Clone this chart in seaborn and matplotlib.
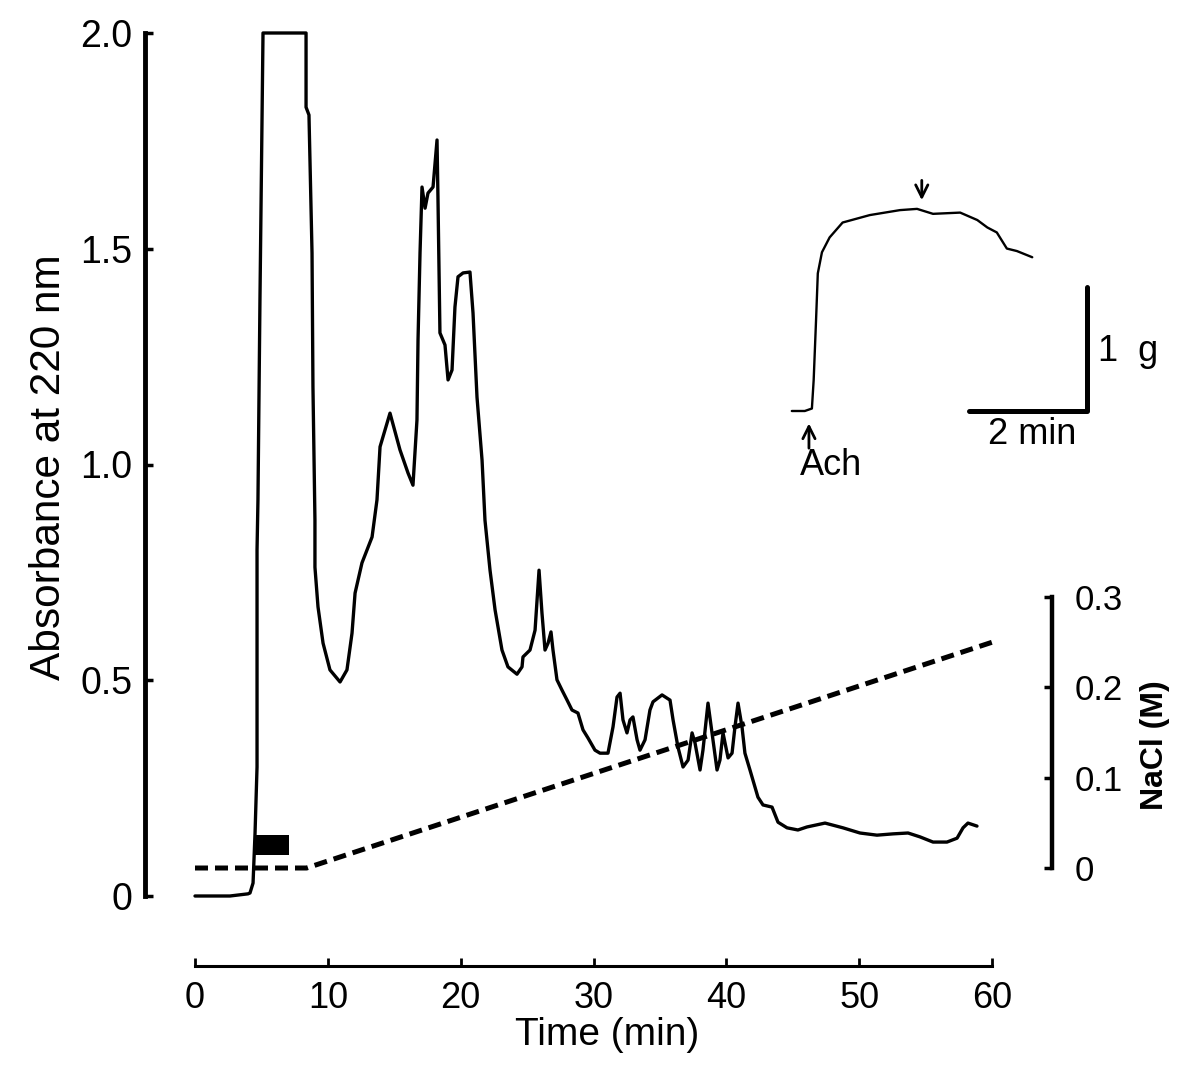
import matplotlib
matplotlib.use("Agg")
import matplotlib.pyplot as plt
import numpy as np
import pandas as pd
import seaborn as sns

# ---------------- data ----------------
time_min = [0.00, 2.63, 3.99, 4.14, 4.37, 4.52, 4.67, 4.67, 4.74, 4.89, 5.12,
            8.36, 8.36, 8.58, 8.81, 8.88, 9.03, 9.03, 9.26, 9.64, 10.16, 10.92,
            11.44, 11.82, 12.05, 12.57, 13.33, 13.70, 13.93, 14.68, 15.43, 16.04,
            16.41, 16.71, 16.79, 16.94, 17.09, 17.32, 17.54, 17.92, 18.22, 18.29,
            18.44, 18.82, 19.05, 19.35, 19.57, 19.80, 20.18, 20.70, 20.93, 21.23,
            21.61, 21.83, 22.21, 22.59, 23.11, 23.56, 24.24, 24.62, 24.69, 25.22,
            25.60, 25.90, 26.12, 26.35, 26.58, 26.80, 26.95, 27.25, 27.63, 28.01,
            28.38, 28.83, 29.21, 29.59, 30.11, 30.49, 31.09, 31.47, 31.77, 32.00,
            32.22, 32.52, 32.75, 32.97, 33.28, 33.50, 33.88, 34.25, 34.48, 35.16,
            35.76, 35.99, 36.36, 36.74, 37.12, 37.42, 37.64, 38.02, 38.24, 38.62,
            38.92, 39.30, 39.52, 39.75, 40.13, 40.43, 40.65, 40.88, 41.18, 41.40,
            41.78, 42.38, 42.76, 43.44, 43.89, 44.57, 45.39, 46.07, 47.43, 48.78,
            50.06, 51.34, 52.55, 53.68, 54.58, 55.56, 56.61, 57.37, 57.82, 58.19,
            58.87]
absorbance = [0.000, 0.000, 0.005, 0.007, 0.030, 0.146, 0.299, 0.802, 0.918, 1.381, 2.000,
              2.000, 1.828, 1.810, 1.490, 1.180, 0.871, 0.762, 0.670, 0.586, 0.524, 0.496,
              0.524, 0.609, 0.702, 0.772, 0.832, 0.918, 1.041, 1.119, 1.034, 0.980,
              0.952, 1.103, 1.289, 1.490, 1.643, 1.594, 1.629, 1.643, 1.752, 1.620,
              1.305, 1.277, 1.196, 1.219, 1.365, 1.435, 1.444, 1.446, 1.351, 1.156,
              1.010, 0.871, 0.755, 0.663, 0.570, 0.531, 0.514, 0.531, 0.554, 0.570,
              0.616, 0.755, 0.656, 0.570, 0.586, 0.612, 0.570, 0.501, 0.477, 0.454,
              0.431, 0.424, 0.385, 0.366, 0.338, 0.331, 0.331, 0.392, 0.461, 0.470,
              0.408, 0.378, 0.408, 0.415, 0.362, 0.338, 0.362, 0.431, 0.450, 0.466,
              0.454, 0.408, 0.345, 0.299, 0.315, 0.378, 0.355, 0.292, 0.338, 0.447,
              0.378, 0.292, 0.315, 0.378, 0.320, 0.331, 0.392, 0.447, 0.392, 0.331,
              0.292, 0.229, 0.211, 0.206, 0.171, 0.158, 0.153, 0.160, 0.169, 0.158,
              0.146, 0.141, 0.144, 0.146, 0.137, 0.125, 0.125, 0.134, 0.158, 0.169,
              0.162]

grad_time = [0.0, 8.4, 60.0]
grad_nacl = [0.0, 0.0, 0.25]

fraction_time = [4.45, 7.08]
fraction_low = [0.095, 0.095]
fraction_high = [0.141, 0.141]

inset_time = [0.00, 0.22, 0.34, 0.37, 0.41, 0.44, 0.51, 0.64, 0.86, 1.32, 1.83,
              2.12, 2.39, 2.85, 3.14, 3.31, 3.47, 3.64, 3.81, 4.07]
inset_tension = [0.00, 0.00, 0.02, 0.25, 0.73, 1.11, 1.28, 1.40, 1.52, 1.58, 1.62,
                 1.63, 1.59, 1.60, 1.54, 1.48, 1.44, 1.31, 1.29, 1.24]
scalebar_time = [3.0, 5.0, 5.0]
scalebar_tension = [0.0, 0.0, 1.0]

x_ticks = [0, 10, 20, 30, 40, 50, 60]
x_labels = ["0", "10", "20", "30", "40", "50", "60"]
abs_ticks = [0, 0.5, 1.0, 1.5, 2.0]
abs_labels = ["0", "0.5", "1.0", "1.5", "2.0"]
nacl_ticks = [0, 0.1, 0.2, 0.3]
nacl_labels = ["0", "0.1", "0.2", "0.3"]

# ---------------- style ----------------
sns.set_theme(style="ticks")
plt.rcParams['font.family'] = ['Liberation Sans', 'DejaVu Sans']
plt.rcParams['text.color'] = 'black'
plt.rcParams['axes.labelcolor'] = 'black'
plt.rcParams['axes.edgecolor'] = 'black'
plt.rcParams['xtick.color'] = 'black'
plt.rcParams['ytick.color'] = 'black'

W, H = 1194, 1072
fig = plt.figure(figsize=(W / 100, H / 100), dpi=100)
fig.patch.set_facecolor('white')

ax = fig.add_axes([195 / W, 1 - 896 / H, 797 / W, 863 / H])
ax.set_facecolor('none')

df = pd.DataFrame({"t": time_min, "A": absorbance})
sns.lineplot(data=df, x="t", y="A", ax=ax, estimator=None, sort=False,
             color="black", linewidth=2.4)
for ln in ax.lines:
    ln.set_clip_on(False)

ax.fill_between(fraction_time, fraction_low, fraction_high, color="black",
                linewidth=0)

ax.set_xlim(0, 60)
ax.set_ylim(0, 2.0)

ax.spines['top'].set_visible(False)
ax.spines['right'].set_visible(False)
ax.spines['left'].set_position(('outward', 36))
ax.spines['left'].set_bounds(0, 2.0)
ax.spines['left'].set_linewidth(3.5)
ax.spines['bottom'].set_position(('outward', 50.4))
ax.spines['bottom'].set_bounds(0, 60)
ax.spines['bottom'].set_linewidth(2.2)

ax.set_xticks(x_ticks)
ax.set_xticklabels(x_labels)
ax.set_yticks(abs_ticks)
ax.set_yticklabels(abs_labels)
ax.tick_params(axis='x', direction='in', length=6, width=2, pad=11, labelsize=26)
ax.tick_params(axis='y', direction='in', length=6, width=2.5, pad=9, labelsize=27)

ax.set_xlabel("Time (min)", fontsize=28, color='black')
ax.xaxis.set_label_coords(0.517, -0.14)
ax.set_ylabel("Absorbance at 220 nm", fontsize=30.5, color='black')
ax.yaxis.set_label_coords(-0.158, 0.497)

# ---------------- NaCl axis ----------------
ax2 = ax.twinx()
ax2.set_facecolor('none')
dg = pd.DataFrame({"t": grad_time, "NaCl": grad_nacl})
sns.lineplot(data=dg, x="t", y="NaCl", ax=ax2, estimator=None, sort=False,
             color="black", linewidth=3.6, dashes=False)
ax2.lines[-1].set_dashes((2.6, 1.4))
ax2.lines[-1].set_clip_on(False)
ax2.set_ylim(-0.031, 0.9247)
ax2.set_xlim(0, 60)
for s in ['top', 'left', 'bottom']:
    ax2.spines[s].set_visible(False)
ax2.spines['right'].set_position(('outward', 43.2))
ax2.spines['right'].set_bounds(0, 0.3)
ax2.spines['right'].set_linewidth(3.2)
ax2.set_yticks(nacl_ticks)
ax2.set_yticklabels(nacl_labels)
ax2.tick_params(axis='y', direction='in', length=6, width=2.5, pad=16, labelsize=25)
ax2.set_ylabel("")
ax2.set_xlabel("")
fig.text(1155 / W, 1 - 745 / H, "NaCl (M)", rotation=90, ha='center', va='center',
         fontsize=23, fontweight='bold', color='black')

# ---------------- inset: contraction trace ----------------
ax_in = fig.add_axes([780 / W, 1 - 473 / H, 319 / W, 310 / H])
di = pd.DataFrame({"t": inset_time, "g": inset_tension})
sns.lineplot(data=di, x="t", y="g", ax=ax_in, estimator=None, sort=False,
             color="black", linewidth=1.7)
ds = pd.DataFrame({"t": scalebar_time, "g": scalebar_tension})
sns.lineplot(data=ds, x="t", y="g", ax=ax_in, estimator=None, sort=False,
             color="black", linewidth=3.6)
for ln in ax_in.lines:
    ln.set_clip_on(False)
ax_in.set_xlim(-0.2, 5.2)
ax_in.set_ylim(-0.5, 2.0)
ax_in.axis('off')

arrow_kw = dict(arrowstyle='->', lw=2.0, color='black', shrinkA=0, shrinkB=0,
                mutation_scale=22)
ax_in.annotate('', xy=(0.29, -0.10), xytext=(0.29, -0.30), arrowprops=arrow_kw)
ax_in.annotate('', xy=(2.2, 1.70), xytext=(2.2, 1.86), arrowprops=arrow_kw)
ax_in.text(0.66, -0.44, "Ach", ha='center', va='center', fontsize=26, color='black')
ax_in.text(4.07, -0.19, "2 min", ha='center', va='center', fontsize=26, color='black')
ax_in.text(5.19, 0.48, "1  g", ha='left', va='center', fontsize=26, color='black')

fig.savefig("out.png", dpi=100, facecolor='white')
